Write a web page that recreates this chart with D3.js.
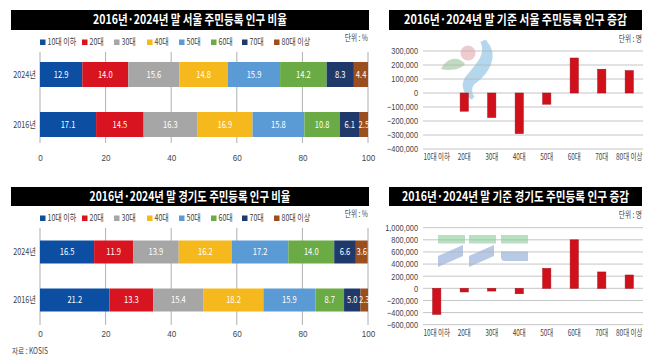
<!DOCTYPE html>
<html><head><meta charset="utf-8">
<script src="https://cdn.jsdelivr.net/npm/d3@7"></script>
<style>
html,body{margin:0;padding:0;background:#fff;}
svg{display:block;font-family:"Noto Sans CJK KR","Noto Sans",sans-serif;}
</style></head>
<body><svg id="c" width="658" height="362"></svg>
<script>
// ---------- data ----------
const ageGroups = ["10대 이하","20대","30대","40대","50대","60대","70대","80대 이상"];
const years = ["2024년","2016년"];
const seoul2024 = [12.9,14.0,15.6,14.8,15.9,14.2,8.3,4.4];
const seoul2016 = [17.1,14.5,16.3,16.9,15.8,10.8,6.1,2.5];
const gg2024 = [16.5,11.9,13.9,16.2,17.2,14.0,6.6,3.6];
const gg2016 = [21.2,13.3,15.4,18.2,15.9,8.7,5.0,2.3];
const seoulChange = [null,-130000,-175000,-290000,-80000,250000,170000,160000];
const ggChange = [-430000,-60000,-45000,-90000,330000,800000,270000,220000];
const pctTicks = [0,20,40,60,80,100];
const seoulTicks = [300000,200000,100000,0,-100000,-200000,-300000,-400000];
const ggTicks = [1000000,800000,600000,400000,200000,0,-200000,-400000,-600000];
const titles = ["2016년·2024년 말 서울 주민등록 인구 비율","2016년·2024년 말 기준 서울 주민등록 인구 증감",
                "2016년·2024년 말 경기도 주민등록 인구 비율","2016년·2024년 말 기준 경기도 주민등록 인구 증감"];
const colors = ["#0b4ea2","#d7141f","#a6a6a6","#f5b81d","#5b9bd5","#6aab46","#1f3a6a","#9b4f1f"];

const svg = d3.select("#c");
const condensed = [];
function condense(sel, f){ sel.each(function(){ condensed.push([this,f]); }); return sel; }

function titleBar(x0,x1,y0,y1,text,tw){
  svg.append("rect").attr("x",x0).attr("y",y0).attr("width",x1-x0).attr("height",y1-y0).attr("fill","#000");
  const t = svg.append("text").attr("x",(x0+x1)/2).attr("y",(y0+y1)/2+4.5).attr("text-anchor","middle")
    .attr("fill","#fff").attr("font-size",13).attr("font-weight",700).text(text);
  condensed.push([t.node(), null, tw]);
}

function stacked(cfg){
  const {gy0,gy1,bandR,data,legendY,unitY,axisY} = cfg;
  const x = d3.scaleLinear().domain([0,100]).range([40,368]);
  const y = d3.scaleBand().domain(years).range(bandR).paddingInner(cfg.pi).paddingOuter(cfg.po);
  const lx = [40,82,114,147,179,211,242,274];
  ageGroups.forEach((g,i)=>{
    svg.append("rect").attr("x",lx[i]).attr("y",legendY-5.5).attr("width",5.5).attr("height",5.5).attr("fill",colors[i]);
    condense(svg.append("text").attr("x",lx[i]+7.5).attr("y",legendY).attr("font-size",9.5).attr("fill","#444").text(g),0.74);
  });
  condense(svg.append("text").attr("x",368).attr("y",unitY).attr("text-anchor","end").attr("font-size",9).attr("fill","#444").text("단위 : %"),0.74);
  svg.append("g").selectAll("line").data(pctTicks).join("line")
    .attr("x1",d=>x(d)).attr("x2",d=>x(d)).attr("y1",gy0).attr("y2",gy1).attr("stroke","#9a9a9a").attr("stroke-width",0.8);
  years.forEach((yr,k)=>{
    const vals = data[k]; let acc=0;
    vals.forEach((v,i)=>{
      const a=acc; acc+=v;
      svg.append("rect").attr("x",x(a)).attr("y",y(yr)).attr("width",Math.min(x(acc),x(100))-x(a)).attr("height",y.bandwidth()).attr("fill",colors[i]);
      condense(svg.append("text").attr("x",(x(a)+x(acc))/2).attr("y",y(yr)+y.bandwidth()/2+3.5).attr("text-anchor","middle")
        .attr("font-size",9.5).attr("fill","#fff").text(v.toFixed(1)),0.8);
    });
    condense(svg.append("text").attr("x",36).attr("y",y(yr)+y.bandwidth()/2+3.5).attr("text-anchor","end").attr("font-size",9.5).attr("fill","#444").text(yr),0.76);
  });
  const ax = d3.axisBottom(x).tickValues(pctTicks).tickSize(0).tickPadding(0);
  const g = svg.append("g").attr("transform",`translate(0,${axisY})`).call(ax);
  g.select(".domain").remove();
  g.selectAll("text").attr("font-size",9.5).attr("fill","#444").attr("font-family","inherit").attr("dy","0.35em");
  g.selectAll("text").each(function(){condensed.push([this,0.85]);});
}

function changeChart(cfg){
  const {vals,ticks,yR,unitY,catY} = cfg;
  const x = d3.scaleBand().domain(ageGroups).range([423,643]).paddingInner(0.7).paddingOuter(0.35);
  const y = d3.scaleLinear().domain([ticks[ticks.length-1],ticks[0]]).range(yR);
  condense(svg.append("text").attr("x",642).attr("y",unitY).attr("text-anchor","end").attr("font-size",9).attr("fill","#444").text("단위 : 명"),0.74);
  svg.append("g").selectAll("line").data(ticks).join("line")
    .attr("x1",423).attr("x2",643).attr("y1",d=>y(d)).attr("y2",d=>y(d)).attr("stroke","#b5b5b5").attr("stroke-width",0.8);
  const ya = d3.axisLeft(y).tickValues(ticks).tickSize(0).tickPadding(0).tickFormat(d3.format(","));
  const gy = svg.append("g").attr("transform","translate(418,0)").call(ya);
  gy.select(".domain").remove();
  gy.selectAll("text").attr("font-size",9).attr("fill","#444").attr("font-family","inherit");
  gy.selectAll("text").each(function(){condensed.push([this,0.82]);});
  svg.append("g").selectAll("rect").data(ageGroups.map((g,i)=>({g,v:vals[i]})).filter(d=>d.v!==null)).join("rect")
    .attr("x",d=>x(d.g)).attr("width",x.bandwidth())
    .attr("y",d=>y(Math.max(0,d.v))).attr("height",d=>Math.abs(y(d.v)-y(0)))
    .attr("fill","#d0111c").attr("stroke","#a30d16").attr("stroke-width",0.5);
  ageGroups.forEach(g=>{
    condense(svg.append("text").attr("x",x(g)+x.bandwidth()/2).attr("y",catY).attr("text-anchor","middle").attr("font-size",9).attr("fill","#444").text(g),0.72);
  });
}

// decorative watermark logos (faint)
const wm = svg.append("g").attr("opacity",0.55);
wm.append("circle").attr("cx",468).attr("cy",53).attr("r",7.5).attr("fill","#e3a0a8");
wm.append("path").attr("d","M441,69 C446,58 458,55 465,64 C460,70 450,71 441,69Z").attr("fill","#8fbf8f");
wm.append("path").attr("d","M485,42 C497,55 488,72 474,82 C468,87 470,95 473,98 C466,94 462,86 467,78 C477,66 488,56 483,43Z").attr("fill","#7ab8e0").attr("stroke","#7ab8e0").attr("stroke-width",4);
[438,469,501].forEach(bx=>{
  wm.append("rect").attr("x",bx).attr("y",235).attr("width",27).attr("height",8.5).attr("fill","#7cc98f");
});
wm.append("path").attr("d","M438,256 L463,245 L463,256 L438,267Z").attr("fill","#7d9ed0");
wm.append("path").attr("d","M469,256 L494,245 L494,256 L469,267Z").attr("fill","#7d9ed0");
wm.append("path").attr("d","M501,251.5 L528,251.5 L528,261 L505,261 Q501,261 501,257Z").attr("fill","#7d9ed0");

titleBar(11,369,10,30,titles[0],194);
titleBar(389,642,10,30,titles[1],223);
titleBar(11,369,187,206,titles[2],201);
titleBar(389,642,187,206,titles[3],227);

stacked({gy0:52,gy1:143,bandR:[52,147],pi:0.5,po:0.2,data:[seoul2024,seoul2016],legendY:45,unitY:41,axisY:158});
stacked({gy0:228,gy1:325,bandR:[228.5,323.5],pi:0.521,po:0.25,data:[gg2024,gg2016],legendY:221,unitY:217,axisY:334});

changeChart({vals:seoulChange,ticks:seoulTicks,yR:[149,51],unitY:42,catY:160});
changeChart({vals:ggChange,ticks:ggTicks,yR:[324.7,227.7],unitY:218,catY:336});

condense(svg.append("text").attr("x",12).attr("y",354).attr("font-size",8.5).attr("fill","#444").text("자료 : KOSIS"),0.78);

// horizontally condense texts with a transform about their anchor point
condensed.forEach(([el,f,target])=>{
  const L = el.getComputedTextLength();
  const s = target ? target/L : f;
  let x = +el.getAttribute("x")||0, y = +el.getAttribute("y")||0;
  const prev = el.getAttribute("transform")||"";
  el.setAttribute("transform", `${prev} translate(${x},${y}) scale(${s},1) translate(${-x},${-y})`);
});
</script></body></html>
